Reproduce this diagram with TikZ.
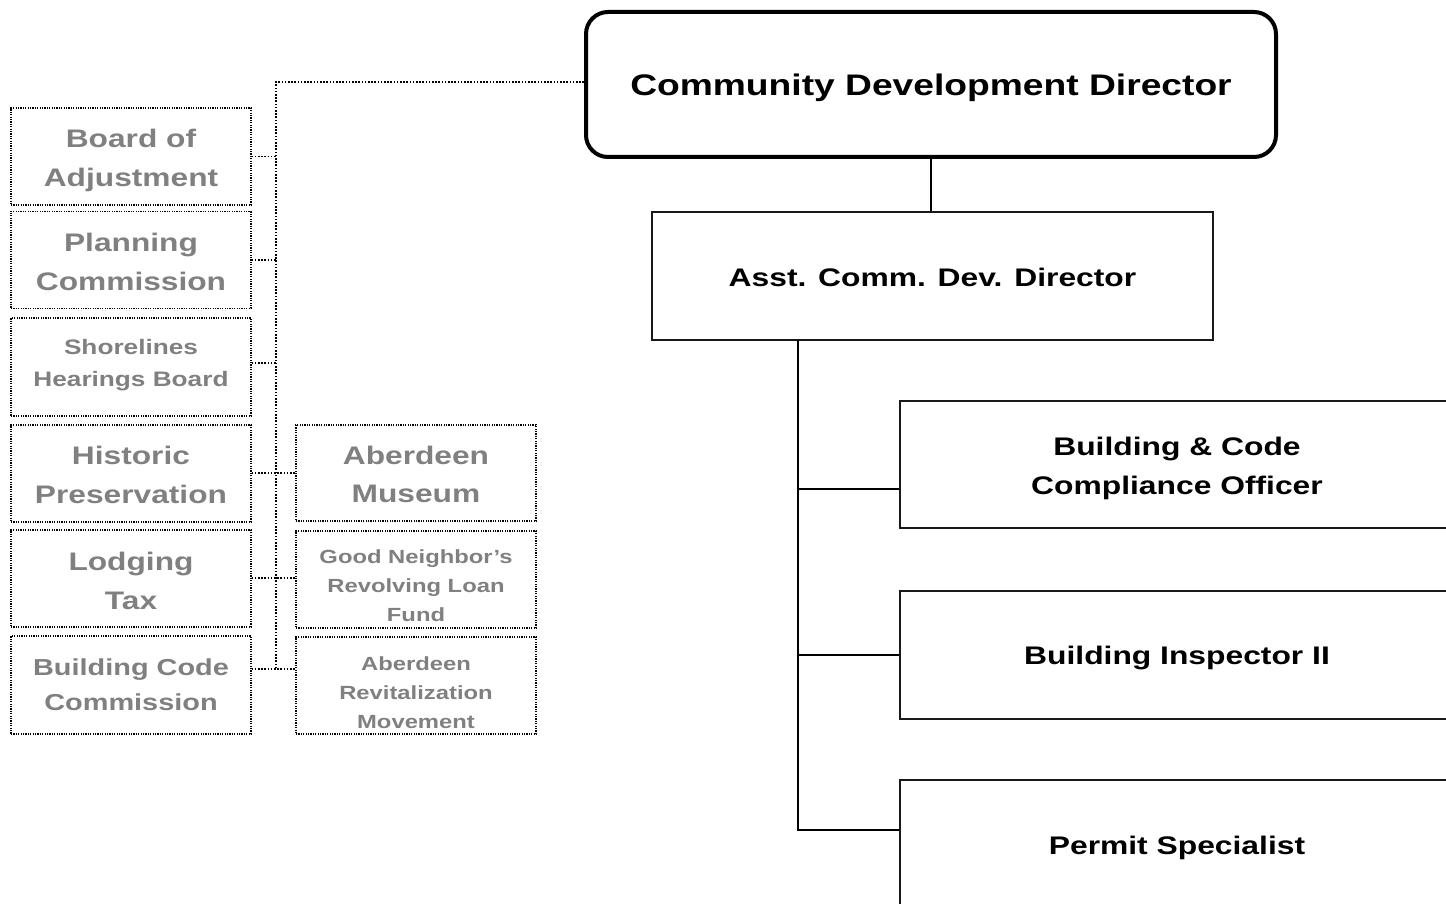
\documentclass[tikz,border=0pt]{standalone}
\usepackage{fontspec}
\usepackage{graphicx}
\setmainfont{Liberation Sans}
\newcommand\vsq[2][3pt]{\raisebox{-#1}[\height][\depth]{\scalebox{1}[0.8]{#2}}}
\definecolor{boardgray}{HTML}{808080}
\tikzset{
  solidc/.style={draw=black, line width=1.5pt},
  dotc/.style={draw=black, line width=1.6pt, dash pattern=on 1.6pt off 1.6pt},
  dirbox/.style={draw=black, line width=4pt, rounded corners=22pt, fill=white, inner sep=0pt, minimum width=690pt, minimum height=145pt, align=center, font=\bfseries\fontsize{37.2}{45}\selectfont},
  posbox/.style={draw=black!90, line width=1.5pt, fill=white, inner sep=0pt, align=center, font=\bfseries\fontsize{31.8}{39}\selectfont},
  brdbox/.style={draw=black, line width=1.2pt, dash pattern=on 1.2pt off 1.2pt, inner sep=0pt, minimum width=240pt, minimum height=97pt, align=center, text=boardgray},
  bigf/.style={font=\bfseries\fontsize{31.7}{38.5}\selectfont},
  midf/.style={font=\bfseries\fontsize{28.9}{35}\selectfont},
  smlf/.style={font=\bfseries\fontsize{26.2}{32}\selectfont},
  tinyf/.style={font=\bfseries\fontsize{23.8}{29}\selectfont}
}
\begin{document}
\begin{tikzpicture}[x=1pt,y=-1pt]
\useasboundingbox (0,0) rectangle (1446,904);
\clip (0,0) rectangle (1446,904);
% main chain
\node[dirbox] (dir) at (931,84.5) {\vsq{Community Development Director}};
\node[posbox, minimum width=561pt, minimum height=128pt] (asst) at (932.5,276) {\vsq[1.5pt]{Asst. Comm. Dev. Director}};
\node[posbox, minimum width=554pt, minimum height=127pt] (b1) at (1177,464.5) {\vsq[4pt]{Building \& Code}\\\vsq[4pt]{Compliance Officer}};
\node[posbox, minimum width=554pt, minimum height=128pt] (b2) at (1177,655) {\vsq{Building Inspector II}};
\node[posbox, minimum width=554pt, minimum height=130pt] (b3) at (1177,845) {\vsq{Permit Specialist}};
\coordinate (tr) at (798,340);
\draw[solidc] (dir.south) -- (dir.south |- asst.north);
\draw[solidc] (tr) |- (b3.west |- 0,830);
\draw[solidc] (tr |- 0,489) -- (b1.west |- 0,489);
\draw[solidc] (tr |- 0,655) -- (b2.west |- 0,655);
% boards
\node[brdbox, bigf] (boa) at (131,156.5) {\vsq[4pt]{Board of}\\\vsq[4pt]{Adjustment}};
\node[brdbox, bigf] (pc) at (131,260) {\vsq[2pt]{Planning}\\\vsq[2pt]{Commission}};
\node[brdbox, smlf, minimum height=98pt] (shb) at (131,367) {\vsq[-2pt]{Shorelines}\\\vsq[-2pt]{Hearings Board}};
\node[brdbox, bigf] (hp) at (131,473.5) {\vsq[1.5pt]{Historic}\\\vsq[1.5pt]{Preservation}};
\node[brdbox, bigf] (lt) at (131,578.5) {\vsq[2.5pt]{Lodging}\\\vsq[2.5pt]{Tax}};
\node[brdbox, midf, minimum height=98pt] (bcc) at (131,685) {\vsq[-0.5pt]{Building Code}\\\vsq[-0.5pt]{Commission}};
\node[brdbox, bigf, minimum height=96pt] (mus) at (416,473) {\vsq[1.5pt]{Aberdeen}\\\vsq[1.5pt]{Museum}};
\node[brdbox, tinyf] (gn) at (416,579.5) {\vsq[6.5pt]{Good Neighbor’s}\\\vsq[6.5pt]{Revolving Loan}\\\vsq[6.5pt]{Fund}};
\node[brdbox, tinyf] (arm) at (416,685.5) {\vsq[7pt]{Aberdeen}\\\vsq[7pt]{Revitalization}\\\vsq[7pt]{Movement}};
% dotted connectors
\coordinate (bus) at (276,82);
\draw[dotc] (dir.west |- bus) -- (bus) -- (276,669);
\draw[dotc] (boa.east) -- (boa.east -| bus);
\draw[dotc] (pc.east) -- (pc.east -| bus);
\draw[dotc] (shb.east |- 0,363) -- (bus |- 0,363);
\draw[dotc] (hp.east |- mus.west) -- (mus.west);
\draw[dotc] (lt.east |- 0,578) -- (gn.west |- 0,578);
\draw[dotc] (bcc.east |- 0,669) -- (arm.west |- 0,669);
\end{tikzpicture}
\end{document}
